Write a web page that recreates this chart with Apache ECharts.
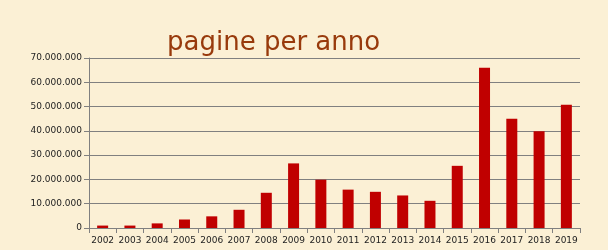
<!DOCTYPE html>
<html>
<head>
<meta charset="utf-8">
<script src="https://cdn.jsdelivr.net/npm/echarts@6/dist/echarts.min.js"></script>
<style>
html,body{margin:0;padding:0;background:#fbf0d5;}
#c{width:608px;height:250px;}
</style>
</head>
<body>
<div id="c"></div>
<script>
var titleText = 'pagine per anno';
var categories = ['2002','2003','2004','2005','2006','2007','2008','2009','2010','2011','2012','2013','2014','2015','2016','2017','2018','2019'];
var pages = [1000000, 1000000, 1900000, 3500000, 4800000, 7500000, 14500000, 26600000, 19900000, 15800000, 14900000, 13400000, 11200000, 25600000, 66000000, 45000000, 39800000, 50700000];
var yMin = 0, yMax = 70000000, yStep = 10000000;

function fmt(v){
  return String(Math.round(v)).replace(/\B(?=(\d{3})+(?!\d))/g, '.');
}

var chart = echarts.init(document.getElementById('c'), null, {renderer:'canvas'});
chart.setOption({
  backgroundColor: '#fbf0d5',
  animation: false,
  title: {
    text: titleText,
    left: 162, top: 25,
    textStyle: {fontFamily: 'DejaVu Sans', fontSize: 26, fontWeight: 'normal', color: '#983a0c'}
  },
  grid: {left: 89, right: 28, top: 58, bottom: 22, containLabel: false},
  xAxis: {
    type: 'category',
    data: categories,
    boundaryGap: true,
    axisLine: {show: true, lineStyle: {color: '#808080', width: 1}},
    axisTick: {show: true, alignWithLabel: false, length: 5, lineStyle: {color: '#808080'}},
    axisLabel: {fontFamily: 'DejaVu Sans', fontSize: 9, color: '#222', margin: 8, interval: 0}
  },
  yAxis: {
    type: 'value',
    min: yMin, max: yMax, interval: yStep,
    axisLine: {show: true, lineStyle: {color: '#808080', width: 1}},
    axisTick: {show: true, length: 5, lineStyle: {color: '#808080'}},
    splitLine: {show: true, lineStyle: {color: '#808080', width: 1}},
    axisLabel: {fontFamily: 'DejaVu Sans', fontSize: 9, color: '#222', margin: 7, formatter: fmt}
  },
  series: [{
    type: 'bar',
    data: pages,
    barWidth: 11,
    itemStyle: {color: '#c00000'}
  }]
});
</script>
</body>
</html>
